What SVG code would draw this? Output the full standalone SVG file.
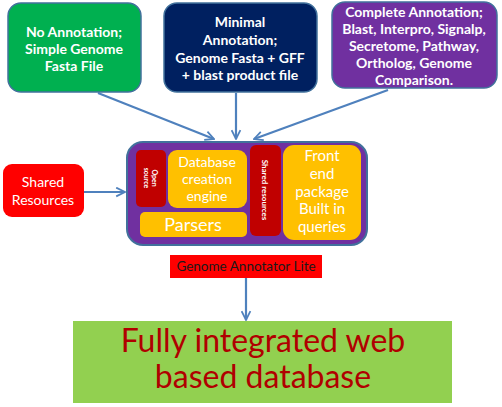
<svg xmlns="http://www.w3.org/2000/svg" width="502" height="407" viewBox="0 0 502 407">
<defs>
<marker id="arr" viewBox="0 0 10 10" refX="9" refY="5" markerWidth="5" markerHeight="5" orient="auto" markerUnits="strokeWidth">
<path d="M1,1 L9,5 L1,9" fill="none" stroke="#4f81bd" stroke-width="1.6"/>
</marker>
<style>
text{font-family:Lato,"Open Sans","Liberation Sans",sans-serif;text-anchor:middle;fill:#fff}
.b{font-weight:bold}
.box{stroke:#41719c;stroke-width:1.5}
.c{stroke:#4f81bd;stroke-width:2.2;fill:none;marker-end:url(#arr)}
</style>
</defs>
<g id="connectors">
<line class="c" x1="98" y1="93" x2="214" y2="139"/>
<line class="c" x1="236" y1="93" x2="236" y2="139"/>
<line class="c" x1="388" y1="90" x2="254" y2="139"/>
<line class="c" x1="84" y1="192" x2="125" y2="192"/>
<line class="c" x1="246" y1="278" x2="246" y2="320"/>
</g>
<g id="no-annotation">
<rect class="box" x="8" y="3" width="133" height="89" rx="13" fill="#00b050"/>
<text class="b" font-size="14" x="74" y="37">No Annotation;</text>
<text class="b" font-size="14" x="74" y="54">Simple Genome</text>
<text class="b" font-size="14" x="74" y="71">Fasta File</text>
</g>
<g id="minimal-annotation">
<rect class="box" x="164" y="3" width="153" height="89" rx="13" fill="#002060"/>
<text class="b" font-size="14" x="240" y="27">Minimal</text>
<text class="b" font-size="14" x="240" y="45">Annotation;</text>
<text class="b" font-size="14" x="240" y="63">Genome Fasta + GFF</text>
<text class="b" font-size="14" x="240" y="80">+ blast product file</text>
</g>
<g id="complete-annotation">
<rect class="box" x="332" y="2" width="165" height="86" rx="13" fill="#7030a0"/>
<text class="b" font-size="14" x="414" y="17">Complete Annotation;</text>
<text class="b" font-size="14" x="414" y="34">Blast, Interpro, Signalp,</text>
<text class="b" font-size="14" x="414" y="51">Secretome, Pathway,</text>
<text class="b" font-size="14" x="414" y="68">Ortholog, Genome</text>
<text class="b" font-size="14" x="414" y="85">Comparison.</text>
</g>
<g id="shared-resources">
<rect x="3" y="164" width="81" height="53" rx="9" fill="#ff0000"/>
<text font-size="14" x="43" y="187">Shared</text>
<text font-size="14" x="43" y="205">Resources</text>
</g>
<g id="genome-annotator-lite">
<rect x="127" y="142" width="240" height="103" rx="16" fill="#7030a0" stroke="#41719c" stroke-width="2"/>
<g id="open-source">
<rect x="136" y="150" width="30" height="57" rx="5" fill="#c00000"/>
<text class="b" font-size="7" transform="translate(151,178) rotate(90)" y="-1">Open</text>
<text class="b" font-size="7" transform="translate(151,178) rotate(90)" y="7">source</text>
</g>
<g id="database-creation-engine">
<rect x="168" y="150" width="79" height="58" rx="9" fill="#ffc000"/>
<text font-size="14" x="207" y="167">Database</text>
<text font-size="14" x="207" y="184">creation</text>
<text font-size="14" x="207" y="201">engine</text>
</g>
<g id="parsers">
<rect x="140" y="212" width="107" height="25" rx="5" fill="#ffc000"/>
<text font-size="18" x="193" y="231">Parsers</text>
</g>
<g id="shared-resources-inner">
<rect x="250" y="145" width="31" height="91" rx="6" fill="#c00000"/>
<text class="b" font-size="8" transform="translate(265,190) rotate(90)" y="3">Shared resources</text>
</g>
<g id="front-end">
<rect x="283" y="145" width="78" height="95" rx="11" fill="#ffc000"/>
<text font-size="15" x="322" y="161">Front</text>
<text font-size="15" x="322" y="179">end</text>
<text font-size="15" x="322" y="197">package</text>
<text font-size="15" x="322" y="214">Built in</text>
<text font-size="15" x="322" y="232">queries</text>
</g>
</g>
<g id="label-gal">
<rect x="170" y="255" width="152" height="23" fill="#ff0000"/>
<text font-size="13.5" x="246" y="271" style="fill:#1a1a1a">Genome Annotator Lite</text>
</g>
<g id="web-database">
<rect x="73" y="321" width="379" height="82" fill="#92d050"/>
<text font-size="32" x="263" y="352" style="fill:#b00000">Fully integrated web</text>
<text font-size="32" x="263" y="388" style="fill:#b00000">based database</text>
</g>
</svg>
